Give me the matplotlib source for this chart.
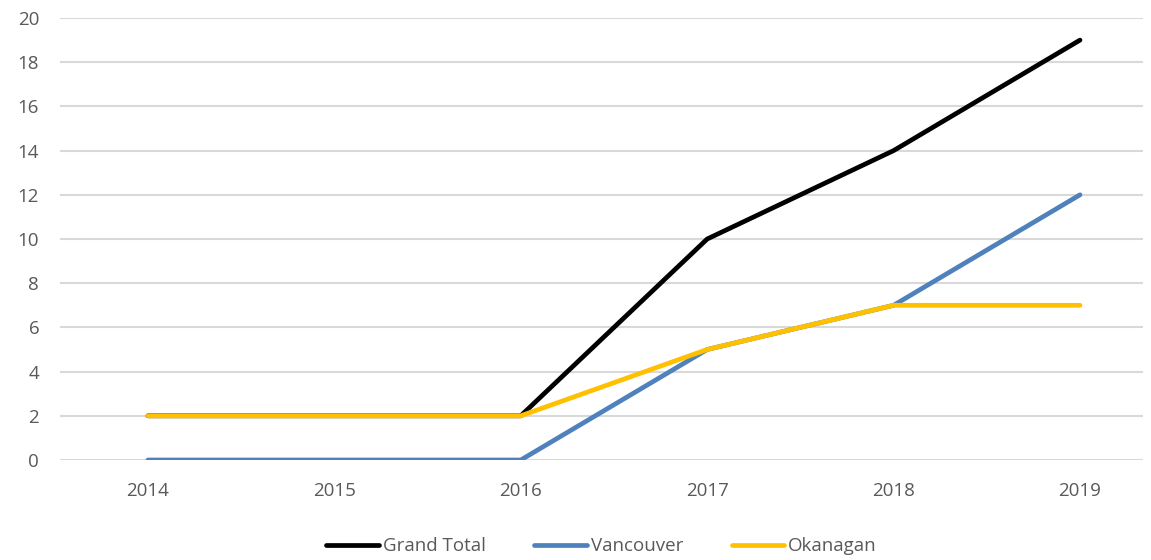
import matplotlib
matplotlib.use('Agg')
import matplotlib.pyplot as plt
import numpy as np

years = ['2014', '2015', '2016', '2017', '2018', '2019']
grand_total = [2, 2, 2, 10, 14, 19]
vancouver = [0, 0, 0, 5, 7, 12]
okanagan = [2, 2, 2, 5, 7, 7]

plt.rcParams['font.family'] = ['Open Sans', 'DejaVu Sans']

fig = plt.figure(figsize=(11.51, 5.6), dpi=100)
ax = fig.add_axes([60 / 1151, 100 / 560, 1083 / 1151, 442 / 560])

x = np.arange(len(years))
ax.plot(x, grand_total, color='black', lw=3.4, solid_capstyle='round', label='Grand Total')
ax.plot(x, vancouver, color='#4f81bd', lw=3.4, solid_capstyle='round', label='Vancouver')
ax.plot(x, okanagan, color='#ffc000', lw=3.4, solid_capstyle='round', label='Okanagan')

ax.set_xlim(-0.472, 5.338)
ax.set_ylim(0, 20)
ax.set_yticks(range(0, 21, 2))
ax.set_xticks(x, years)
ax.grid(axis='y', color='#d9d9d9', lw=1.5)
ax.set_axisbelow(True)
for s in ax.spines.values():
    s.set_visible(False)
ax.tick_params(length=0, labelsize=13.5, labelcolor='#595959')
ax.tick_params(axis='y', pad=15)
ax.tick_params(axis='x', pad=16)

ax.legend(loc='center', bbox_to_anchor=(0.5, -0.195), ncol=3, frameon=False,
          fontsize=13.5, labelcolor='#595959', handlelength=2.8, handletextpad=0.2,
          columnspacing=2.6)

fig.savefig('out.png', dpi=100)
